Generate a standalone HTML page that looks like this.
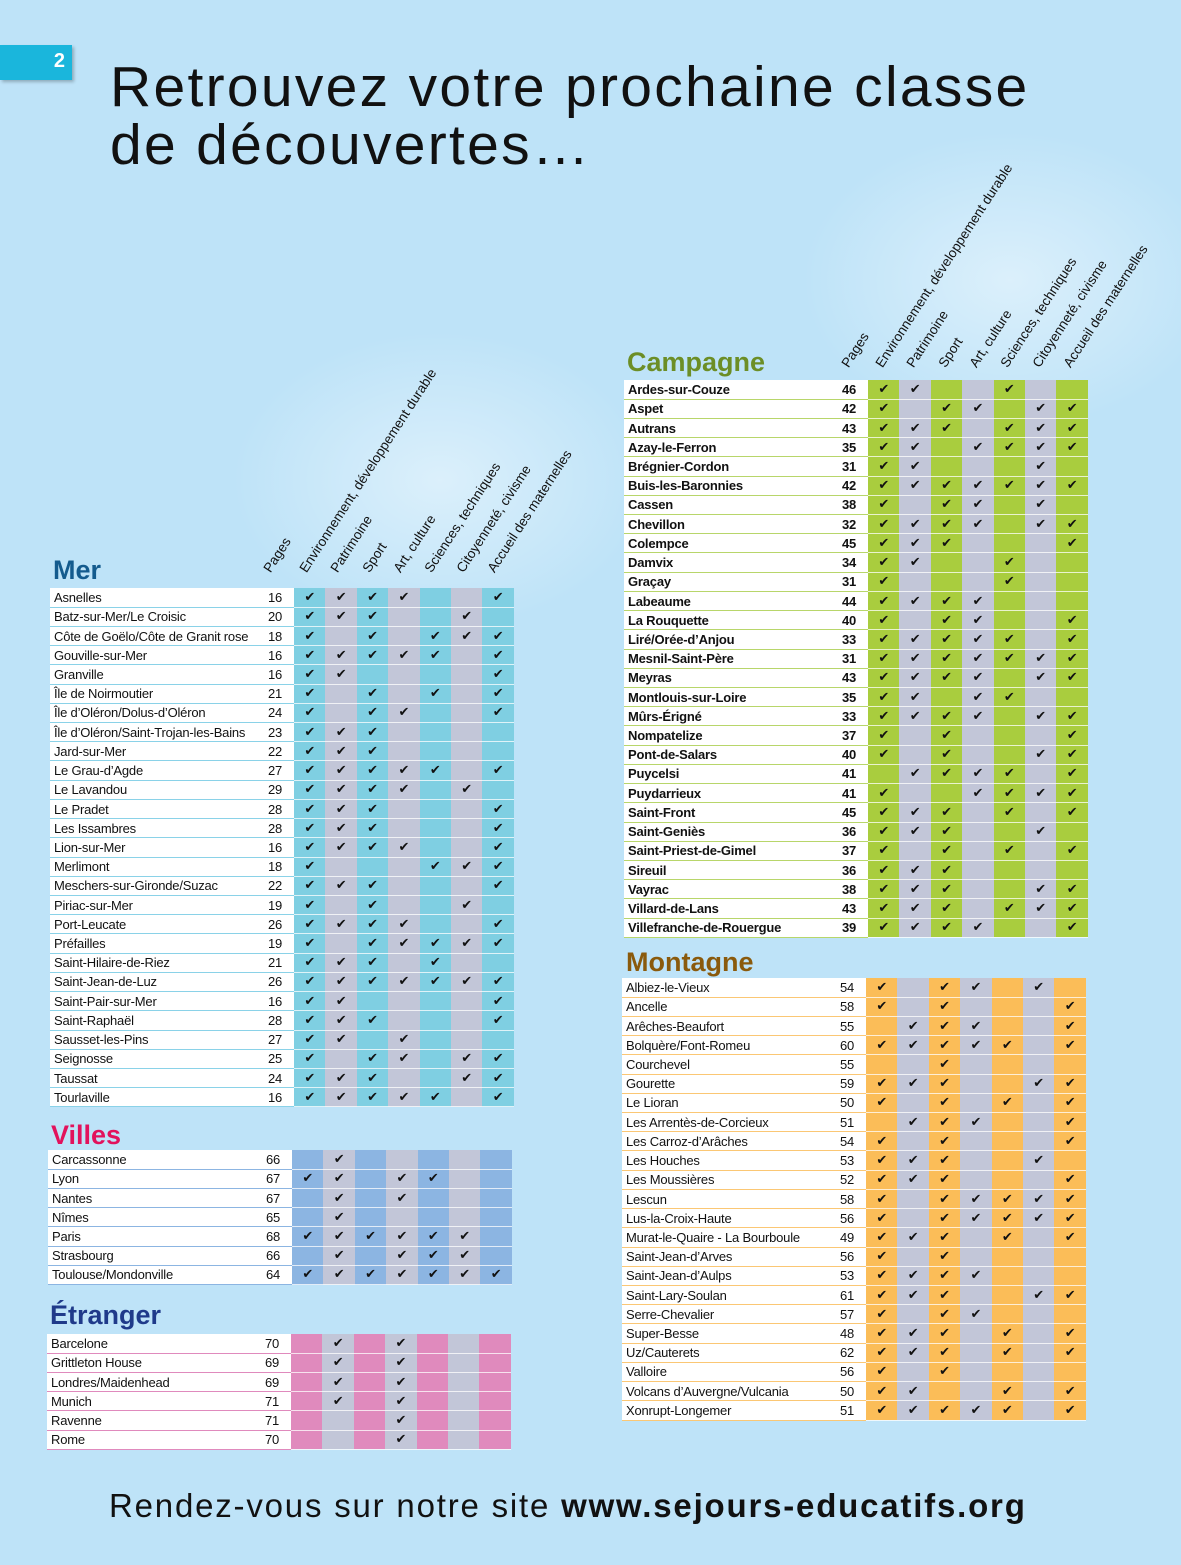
<!DOCTYPE html>
<html><head><meta charset="utf-8"><style>
*{margin:0;padding:0;box-sizing:border-box}
body{width:1181px;height:1565px;position:relative;overflow:hidden;background:#bee3f8;font-family:"Liberation Sans",sans-serif;color:#111}
.badge{position:absolute;left:0;top:45px;width:72px;height:35px;background:#1ab6dc;color:#fff;font-weight:bold;font-size:20px;text-align:right;padding:5px 7px 0 0;box-shadow:2px 2px 3px rgba(0,0,0,.25)}
h1{position:absolute;left:110px;top:58px;font-size:57px;font-weight:normal;line-height:58px;color:#111;letter-spacing:2.3px}
.sec{position:absolute;font-weight:bold;font-size:27px;line-height:30px}
table{position:absolute;border-collapse:collapse;font-size:13px;letter-spacing:-0.2px}
td{height:19.23px;padding:0;vertical-align:middle;border-bottom:1.5px solid rgba(255,255,255,.75)}
td.n{background:#fff;padding-left:4px;width:212px;white-space:nowrap}
td.p{background:#fff;width:32px;text-align:center;padding-right:6px}
td.c{width:31.4px;text-align:center;font-family:"DejaVu Sans",sans-serif;font-size:13px;font-weight:bold}
td.c:nth-child(even){background:#c2c6d8}
.mer td.c:nth-child(odd){background:#7fcfe2}.mer td.n,.mer td.p{border-bottom-color:#8ad2e8}
.vil td.c:nth-child(odd){background:#8cb5e2}.vil td.n,.vil td.p{border-bottom-color:#8cb5e2}
.etr td.c:nth-child(odd){background:#e08abd}.etr td.n,.etr td.p{border-bottom-color:#e08abd}
.cam td.c:nth-child(odd){background:#a9cd3e}.cam td.n,.cam td.p{border-bottom-color:#b8d66a}
.mon td.c:nth-child(odd){background:#fbbd58}.mon td.n,.mon td.p{border-bottom-color:#fbc774}
.cam td,.cam{font-weight:bold}
.hd span{position:absolute;font-size:13.5px;line-height:14px;white-space:nowrap;transform-origin:0 100%;transform:rotate(-57deg)}
.foot{position:absolute;left:109px;top:1486px;font-size:33px;line-height:40px;letter-spacing:1.8px}
.glow{position:absolute;border-radius:50%;background:radial-gradient(rgba(255,255,255,.45),rgba(255,255,255,0) 70%)}
</style></head><body>
<div class="glow" style="left:230px;top:330px;width:420px;height:300px"></div>
<div class="glow" style="left:800px;top:130px;width:420px;height:300px"></div>
<div class="badge">2</div>
<h1>Retrouvez votre prochaine classe<br>de découvertes…</h1>

<div class="hd">
<span style="left:273px;top:561px">Pages</span>
<span style="left:309px;top:561px">Environnement, développement durable</span>
<span style="left:340px;top:561px">Patrimoine</span>
<span style="left:372px;top:561px">Sport</span>
<span style="left:403px;top:561px">Art, culture</span>
<span style="left:434px;top:561px">Sciences, techniques</span>
<span style="left:466px;top:561px">Citoyenneté, civisme</span>
<span style="left:497px;top:561px">Accueil des maternelles</span>
<span style="left:851px;top:356px">Pages</span>
<span style="left:885px;top:356px">Environnement, développement durable</span>
<span style="left:916px;top:356px">Patrimoine</span>
<span style="left:948px;top:356px">Sport</span>
<span style="left:979px;top:356px">Art, culture</span>
<span style="left:1010px;top:356px">Sciences, techniques</span>
<span style="left:1042px;top:356px">Citoyenneté, civisme</span>
<span style="left:1073px;top:356px">Accueil des maternelles</span>
</div>

<div class="sec" style="left:53px;top:555px;color:#145b8e">Mer</div>
<table class="mer" style="left:50px;top:588px">
<tr><td class=n>Asnelles</td><td class=p>16</td><td class=c>✔</td><td class=c>✔</td><td class=c>✔</td><td class=c>✔</td><td class=c></td><td class=c></td><td class=c>✔</td></tr>
<tr><td class=n>Batz-sur-Mer/Le Croisic</td><td class=p>20</td><td class=c>✔</td><td class=c>✔</td><td class=c>✔</td><td class=c></td><td class=c></td><td class=c>✔</td><td class=c></td></tr>
<tr><td class=n>Côte de Goëlo/Côte de Granit rose</td><td class=p>18</td><td class=c>✔</td><td class=c></td><td class=c>✔</td><td class=c></td><td class=c>✔</td><td class=c>✔</td><td class=c>✔</td></tr>
<tr><td class=n>Gouville-sur-Mer</td><td class=p>16</td><td class=c>✔</td><td class=c>✔</td><td class=c>✔</td><td class=c>✔</td><td class=c>✔</td><td class=c></td><td class=c>✔</td></tr>
<tr><td class=n>Granville</td><td class=p>16</td><td class=c>✔</td><td class=c>✔</td><td class=c></td><td class=c></td><td class=c></td><td class=c></td><td class=c>✔</td></tr>
<tr><td class=n>Île de Noirmoutier</td><td class=p>21</td><td class=c>✔</td><td class=c></td><td class=c>✔</td><td class=c></td><td class=c>✔</td><td class=c></td><td class=c>✔</td></tr>
<tr><td class=n>Île d’Oléron/Dolus-d’Oléron</td><td class=p>24</td><td class=c>✔</td><td class=c></td><td class=c>✔</td><td class=c>✔</td><td class=c></td><td class=c></td><td class=c>✔</td></tr>
<tr><td class=n>Île d’Oléron/Saint-Trojan-les-Bains</td><td class=p>23</td><td class=c>✔</td><td class=c>✔</td><td class=c>✔</td><td class=c></td><td class=c></td><td class=c></td><td class=c></td></tr>
<tr><td class=n>Jard-sur-Mer</td><td class=p>22</td><td class=c>✔</td><td class=c>✔</td><td class=c>✔</td><td class=c></td><td class=c></td><td class=c></td><td class=c></td></tr>
<tr><td class=n>Le Grau-d’Agde</td><td class=p>27</td><td class=c>✔</td><td class=c>✔</td><td class=c>✔</td><td class=c>✔</td><td class=c>✔</td><td class=c></td><td class=c>✔</td></tr>
<tr><td class=n>Le Lavandou</td><td class=p>29</td><td class=c>✔</td><td class=c>✔</td><td class=c>✔</td><td class=c>✔</td><td class=c></td><td class=c>✔</td><td class=c></td></tr>
<tr><td class=n>Le Pradet</td><td class=p>28</td><td class=c>✔</td><td class=c>✔</td><td class=c>✔</td><td class=c></td><td class=c></td><td class=c></td><td class=c>✔</td></tr>
<tr><td class=n>Les Issambres</td><td class=p>28</td><td class=c>✔</td><td class=c>✔</td><td class=c>✔</td><td class=c></td><td class=c></td><td class=c></td><td class=c>✔</td></tr>
<tr><td class=n>Lion-sur-Mer</td><td class=p>16</td><td class=c>✔</td><td class=c>✔</td><td class=c>✔</td><td class=c>✔</td><td class=c></td><td class=c></td><td class=c>✔</td></tr>
<tr><td class=n>Merlimont</td><td class=p>18</td><td class=c>✔</td><td class=c></td><td class=c></td><td class=c></td><td class=c>✔</td><td class=c>✔</td><td class=c>✔</td></tr>
<tr><td class=n>Meschers-sur-Gironde/Suzac</td><td class=p>22</td><td class=c>✔</td><td class=c>✔</td><td class=c>✔</td><td class=c></td><td class=c></td><td class=c></td><td class=c>✔</td></tr>
<tr><td class=n>Piriac-sur-Mer</td><td class=p>19</td><td class=c>✔</td><td class=c></td><td class=c>✔</td><td class=c></td><td class=c></td><td class=c>✔</td><td class=c></td></tr>
<tr><td class=n>Port-Leucate</td><td class=p>26</td><td class=c>✔</td><td class=c>✔</td><td class=c>✔</td><td class=c>✔</td><td class=c></td><td class=c></td><td class=c>✔</td></tr>
<tr><td class=n>Préfailles</td><td class=p>19</td><td class=c>✔</td><td class=c></td><td class=c>✔</td><td class=c>✔</td><td class=c>✔</td><td class=c>✔</td><td class=c>✔</td></tr>
<tr><td class=n>Saint-Hilaire-de-Riez</td><td class=p>21</td><td class=c>✔</td><td class=c>✔</td><td class=c>✔</td><td class=c></td><td class=c>✔</td><td class=c></td><td class=c></td></tr>
<tr><td class=n>Saint-Jean-de-Luz</td><td class=p>26</td><td class=c>✔</td><td class=c>✔</td><td class=c>✔</td><td class=c>✔</td><td class=c>✔</td><td class=c>✔</td><td class=c>✔</td></tr>
<tr><td class=n>Saint-Pair-sur-Mer</td><td class=p>16</td><td class=c>✔</td><td class=c>✔</td><td class=c></td><td class=c></td><td class=c></td><td class=c></td><td class=c>✔</td></tr>
<tr><td class=n>Saint-Raphaël</td><td class=p>28</td><td class=c>✔</td><td class=c>✔</td><td class=c>✔</td><td class=c></td><td class=c></td><td class=c></td><td class=c>✔</td></tr>
<tr><td class=n>Sausset-les-Pins</td><td class=p>27</td><td class=c>✔</td><td class=c>✔</td><td class=c></td><td class=c>✔</td><td class=c></td><td class=c></td><td class=c></td></tr>
<tr><td class=n>Seignosse</td><td class=p>25</td><td class=c>✔</td><td class=c></td><td class=c>✔</td><td class=c>✔</td><td class=c></td><td class=c>✔</td><td class=c>✔</td></tr>
<tr><td class=n>Taussat</td><td class=p>24</td><td class=c>✔</td><td class=c>✔</td><td class=c>✔</td><td class=c></td><td class=c></td><td class=c>✔</td><td class=c>✔</td></tr>
<tr><td class=n>Tourlaville</td><td class=p>16</td><td class=c>✔</td><td class=c>✔</td><td class=c>✔</td><td class=c>✔</td><td class=c>✔</td><td class=c></td><td class=c>✔</td></tr>
</table>

<div class="sec" style="left:51px;top:1120px;color:#e2125c">Villes</div>
<table class="vil" style="left:48px;top:1150px">
<tr><td class=n>Carcassonne</td><td class=p>66</td><td class=c></td><td class=c>✔</td><td class=c></td><td class=c></td><td class=c></td><td class=c></td><td class=c></td></tr>
<tr><td class=n>Lyon</td><td class=p>67</td><td class=c>✔</td><td class=c>✔</td><td class=c></td><td class=c>✔</td><td class=c>✔</td><td class=c></td><td class=c></td></tr>
<tr><td class=n>Nantes</td><td class=p>67</td><td class=c></td><td class=c>✔</td><td class=c></td><td class=c>✔</td><td class=c></td><td class=c></td><td class=c></td></tr>
<tr><td class=n>Nîmes</td><td class=p>65</td><td class=c></td><td class=c>✔</td><td class=c></td><td class=c></td><td class=c></td><td class=c></td><td class=c></td></tr>
<tr><td class=n>Paris</td><td class=p>68</td><td class=c>✔</td><td class=c>✔</td><td class=c>✔</td><td class=c>✔</td><td class=c>✔</td><td class=c>✔</td><td class=c></td></tr>
<tr><td class=n>Strasbourg</td><td class=p>66</td><td class=c></td><td class=c>✔</td><td class=c></td><td class=c>✔</td><td class=c>✔</td><td class=c>✔</td><td class=c></td></tr>
<tr><td class=n>Toulouse/Mondonville</td><td class=p>64</td><td class=c>✔</td><td class=c>✔</td><td class=c>✔</td><td class=c>✔</td><td class=c>✔</td><td class=c>✔</td><td class=c>✔</td></tr>
</table>

<div class="sec" style="left:50px;top:1300px;color:#1f3a8a">Étranger</div>
<table class="etr" style="left:47px;top:1334px">
<tr><td class=n>Barcelone</td><td class=p>70</td><td class=c></td><td class=c>✔</td><td class=c></td><td class=c>✔</td><td class=c></td><td class=c></td><td class=c></td></tr>
<tr><td class=n>Grittleton House</td><td class=p>69</td><td class=c></td><td class=c>✔</td><td class=c></td><td class=c>✔</td><td class=c></td><td class=c></td><td class=c></td></tr>
<tr><td class=n>Londres/Maidenhead</td><td class=p>69</td><td class=c></td><td class=c>✔</td><td class=c></td><td class=c>✔</td><td class=c></td><td class=c></td><td class=c></td></tr>
<tr><td class=n>Munich</td><td class=p>71</td><td class=c></td><td class=c>✔</td><td class=c></td><td class=c>✔</td><td class=c></td><td class=c></td><td class=c></td></tr>
<tr><td class=n>Ravenne</td><td class=p>71</td><td class=c></td><td class=c></td><td class=c></td><td class=c>✔</td><td class=c></td><td class=c></td><td class=c></td></tr>
<tr><td class=n>Rome</td><td class=p>70</td><td class=c></td><td class=c></td><td class=c></td><td class=c>✔</td><td class=c></td><td class=c></td><td class=c></td></tr>
</table>

<div class="sec" style="left:627px;top:347px;color:#6c8e26">Campagne</div>
<table class="cam" style="left:624px;top:380px">
<tr><td class=n>Ardes-sur-Couze</td><td class=p>46</td><td class=c>✔</td><td class=c>✔</td><td class=c></td><td class=c></td><td class=c>✔</td><td class=c></td><td class=c></td></tr>
<tr><td class=n>Aspet</td><td class=p>42</td><td class=c>✔</td><td class=c></td><td class=c>✔</td><td class=c>✔</td><td class=c></td><td class=c>✔</td><td class=c>✔</td></tr>
<tr><td class=n>Autrans</td><td class=p>43</td><td class=c>✔</td><td class=c>✔</td><td class=c>✔</td><td class=c></td><td class=c>✔</td><td class=c>✔</td><td class=c>✔</td></tr>
<tr><td class=n>Azay-le-Ferron</td><td class=p>35</td><td class=c>✔</td><td class=c>✔</td><td class=c></td><td class=c>✔</td><td class=c>✔</td><td class=c>✔</td><td class=c>✔</td></tr>
<tr><td class=n>Brégnier-Cordon</td><td class=p>31</td><td class=c>✔</td><td class=c>✔</td><td class=c></td><td class=c></td><td class=c></td><td class=c>✔</td><td class=c></td></tr>
<tr><td class=n>Buis-les-Baronnies</td><td class=p>42</td><td class=c>✔</td><td class=c>✔</td><td class=c>✔</td><td class=c>✔</td><td class=c>✔</td><td class=c>✔</td><td class=c>✔</td></tr>
<tr><td class=n>Cassen</td><td class=p>38</td><td class=c>✔</td><td class=c></td><td class=c>✔</td><td class=c>✔</td><td class=c></td><td class=c>✔</td><td class=c></td></tr>
<tr><td class=n>Chevillon</td><td class=p>32</td><td class=c>✔</td><td class=c>✔</td><td class=c>✔</td><td class=c>✔</td><td class=c></td><td class=c>✔</td><td class=c>✔</td></tr>
<tr><td class=n>Colempce</td><td class=p>45</td><td class=c>✔</td><td class=c>✔</td><td class=c>✔</td><td class=c></td><td class=c></td><td class=c></td><td class=c>✔</td></tr>
<tr><td class=n>Damvix</td><td class=p>34</td><td class=c>✔</td><td class=c>✔</td><td class=c></td><td class=c></td><td class=c>✔</td><td class=c></td><td class=c></td></tr>
<tr><td class=n>Graçay</td><td class=p>31</td><td class=c>✔</td><td class=c></td><td class=c></td><td class=c></td><td class=c>✔</td><td class=c></td><td class=c></td></tr>
<tr><td class=n>Labeaume</td><td class=p>44</td><td class=c>✔</td><td class=c>✔</td><td class=c>✔</td><td class=c>✔</td><td class=c></td><td class=c></td><td class=c></td></tr>
<tr><td class=n>La Rouquette</td><td class=p>40</td><td class=c>✔</td><td class=c></td><td class=c>✔</td><td class=c>✔</td><td class=c></td><td class=c></td><td class=c>✔</td></tr>
<tr><td class=n>Liré/Orée-d’Anjou</td><td class=p>33</td><td class=c>✔</td><td class=c>✔</td><td class=c>✔</td><td class=c>✔</td><td class=c>✔</td><td class=c></td><td class=c>✔</td></tr>
<tr><td class=n>Mesnil-Saint-Père</td><td class=p>31</td><td class=c>✔</td><td class=c>✔</td><td class=c>✔</td><td class=c>✔</td><td class=c>✔</td><td class=c>✔</td><td class=c>✔</td></tr>
<tr><td class=n>Meyras</td><td class=p>43</td><td class=c>✔</td><td class=c>✔</td><td class=c>✔</td><td class=c>✔</td><td class=c></td><td class=c>✔</td><td class=c>✔</td></tr>
<tr><td class=n>Montlouis-sur-Loire</td><td class=p>35</td><td class=c>✔</td><td class=c>✔</td><td class=c></td><td class=c>✔</td><td class=c>✔</td><td class=c></td><td class=c></td></tr>
<tr><td class=n>Mûrs-Érigné</td><td class=p>33</td><td class=c>✔</td><td class=c>✔</td><td class=c>✔</td><td class=c>✔</td><td class=c></td><td class=c>✔</td><td class=c>✔</td></tr>
<tr><td class=n>Nompatelize</td><td class=p>37</td><td class=c>✔</td><td class=c></td><td class=c>✔</td><td class=c></td><td class=c></td><td class=c></td><td class=c>✔</td></tr>
<tr><td class=n>Pont-de-Salars</td><td class=p>40</td><td class=c>✔</td><td class=c></td><td class=c>✔</td><td class=c></td><td class=c></td><td class=c>✔</td><td class=c>✔</td></tr>
<tr><td class=n>Puycelsi</td><td class=p>41</td><td class=c></td><td class=c>✔</td><td class=c>✔</td><td class=c>✔</td><td class=c>✔</td><td class=c></td><td class=c>✔</td></tr>
<tr><td class=n>Puydarrieux</td><td class=p>41</td><td class=c>✔</td><td class=c></td><td class=c></td><td class=c>✔</td><td class=c>✔</td><td class=c>✔</td><td class=c>✔</td></tr>
<tr><td class=n>Saint-Front</td><td class=p>45</td><td class=c>✔</td><td class=c>✔</td><td class=c>✔</td><td class=c></td><td class=c>✔</td><td class=c></td><td class=c>✔</td></tr>
<tr><td class=n>Saint-Geniès</td><td class=p>36</td><td class=c>✔</td><td class=c>✔</td><td class=c>✔</td><td class=c></td><td class=c></td><td class=c>✔</td><td class=c></td></tr>
<tr><td class=n>Saint-Priest-de-Gimel</td><td class=p>37</td><td class=c>✔</td><td class=c></td><td class=c>✔</td><td class=c></td><td class=c>✔</td><td class=c></td><td class=c>✔</td></tr>
<tr><td class=n>Sireuil</td><td class=p>36</td><td class=c>✔</td><td class=c>✔</td><td class=c>✔</td><td class=c></td><td class=c></td><td class=c></td><td class=c></td></tr>
<tr><td class=n>Vayrac</td><td class=p>38</td><td class=c>✔</td><td class=c>✔</td><td class=c>✔</td><td class=c></td><td class=c></td><td class=c>✔</td><td class=c>✔</td></tr>
<tr><td class=n>Villard-de-Lans</td><td class=p>43</td><td class=c>✔</td><td class=c>✔</td><td class=c>✔</td><td class=c></td><td class=c>✔</td><td class=c>✔</td><td class=c>✔</td></tr>
<tr><td class=n>Villefranche-de-Rouergue</td><td class=p>39</td><td class=c>✔</td><td class=c>✔</td><td class=c>✔</td><td class=c>✔</td><td class=c></td><td class=c></td><td class=c>✔</td></tr>
</table>

<div class="sec" style="left:626px;top:947px;color:#8a5a0c">Montagne</div>
<table class="mon" style="left:622px;top:978px">
<tr><td class=n>Albiez-le-Vieux</td><td class=p>54</td><td class=c>✔</td><td class=c></td><td class=c>✔</td><td class=c>✔</td><td class=c></td><td class=c>✔</td><td class=c></td></tr>
<tr><td class=n>Ancelle</td><td class=p>58</td><td class=c>✔</td><td class=c></td><td class=c>✔</td><td class=c></td><td class=c></td><td class=c></td><td class=c>✔</td></tr>
<tr><td class=n>Arêches-Beaufort</td><td class=p>55</td><td class=c></td><td class=c>✔</td><td class=c>✔</td><td class=c>✔</td><td class=c></td><td class=c></td><td class=c>✔</td></tr>
<tr><td class=n>Bolquère/Font-Romeu</td><td class=p>60</td><td class=c>✔</td><td class=c>✔</td><td class=c>✔</td><td class=c>✔</td><td class=c>✔</td><td class=c></td><td class=c>✔</td></tr>
<tr><td class=n>Courchevel</td><td class=p>55</td><td class=c></td><td class=c></td><td class=c>✔</td><td class=c></td><td class=c></td><td class=c></td><td class=c></td></tr>
<tr><td class=n>Gourette</td><td class=p>59</td><td class=c>✔</td><td class=c>✔</td><td class=c>✔</td><td class=c></td><td class=c></td><td class=c>✔</td><td class=c>✔</td></tr>
<tr><td class=n>Le Lioran</td><td class=p>50</td><td class=c>✔</td><td class=c></td><td class=c>✔</td><td class=c></td><td class=c>✔</td><td class=c></td><td class=c>✔</td></tr>
<tr><td class=n>Les Arrentès-de-Corcieux</td><td class=p>51</td><td class=c></td><td class=c>✔</td><td class=c>✔</td><td class=c>✔</td><td class=c></td><td class=c></td><td class=c>✔</td></tr>
<tr><td class=n>Les Carroz-d’Arâches</td><td class=p>54</td><td class=c>✔</td><td class=c></td><td class=c>✔</td><td class=c></td><td class=c></td><td class=c></td><td class=c>✔</td></tr>
<tr><td class=n>Les Houches</td><td class=p>53</td><td class=c>✔</td><td class=c>✔</td><td class=c>✔</td><td class=c></td><td class=c></td><td class=c>✔</td><td class=c></td></tr>
<tr><td class=n>Les Moussières</td><td class=p>52</td><td class=c>✔</td><td class=c>✔</td><td class=c>✔</td><td class=c></td><td class=c></td><td class=c></td><td class=c>✔</td></tr>
<tr><td class=n>Lescun</td><td class=p>58</td><td class=c>✔</td><td class=c></td><td class=c>✔</td><td class=c>✔</td><td class=c>✔</td><td class=c>✔</td><td class=c>✔</td></tr>
<tr><td class=n>Lus-la-Croix-Haute</td><td class=p>56</td><td class=c>✔</td><td class=c></td><td class=c>✔</td><td class=c>✔</td><td class=c>✔</td><td class=c>✔</td><td class=c>✔</td></tr>
<tr><td class=n>Murat-le-Quaire - La Bourboule</td><td class=p>49</td><td class=c>✔</td><td class=c>✔</td><td class=c>✔</td><td class=c></td><td class=c>✔</td><td class=c></td><td class=c>✔</td></tr>
<tr><td class=n>Saint-Jean-d’Arves</td><td class=p>56</td><td class=c>✔</td><td class=c></td><td class=c>✔</td><td class=c></td><td class=c></td><td class=c></td><td class=c></td></tr>
<tr><td class=n>Saint-Jean-d’Aulps</td><td class=p>53</td><td class=c>✔</td><td class=c>✔</td><td class=c>✔</td><td class=c>✔</td><td class=c></td><td class=c></td><td class=c></td></tr>
<tr><td class=n>Saint-Lary-Soulan</td><td class=p>61</td><td class=c>✔</td><td class=c>✔</td><td class=c>✔</td><td class=c></td><td class=c></td><td class=c>✔</td><td class=c>✔</td></tr>
<tr><td class=n>Serre-Chevalier</td><td class=p>57</td><td class=c>✔</td><td class=c></td><td class=c>✔</td><td class=c>✔</td><td class=c></td><td class=c></td><td class=c></td></tr>
<tr><td class=n>Super-Besse</td><td class=p>48</td><td class=c>✔</td><td class=c>✔</td><td class=c>✔</td><td class=c></td><td class=c>✔</td><td class=c></td><td class=c>✔</td></tr>
<tr><td class=n>Uz/Cauterets</td><td class=p>62</td><td class=c>✔</td><td class=c>✔</td><td class=c>✔</td><td class=c></td><td class=c>✔</td><td class=c></td><td class=c>✔</td></tr>
<tr><td class=n>Valloire</td><td class=p>56</td><td class=c>✔</td><td class=c></td><td class=c>✔</td><td class=c></td><td class=c></td><td class=c></td><td class=c></td></tr>
<tr><td class=n>Volcans d’Auvergne/Vulcania</td><td class=p>50</td><td class=c>✔</td><td class=c>✔</td><td class=c></td><td class=c></td><td class=c>✔</td><td class=c></td><td class=c>✔</td></tr>
<tr><td class=n>Xonrupt-Longemer</td><td class=p>51</td><td class=c>✔</td><td class=c>✔</td><td class=c>✔</td><td class=c>✔</td><td class=c>✔</td><td class=c></td><td class=c>✔</td></tr>
</table>

<div class="foot">Rendez-vous sur notre site <b>www.sejours-educatifs.org</b></div>
</body></html>
